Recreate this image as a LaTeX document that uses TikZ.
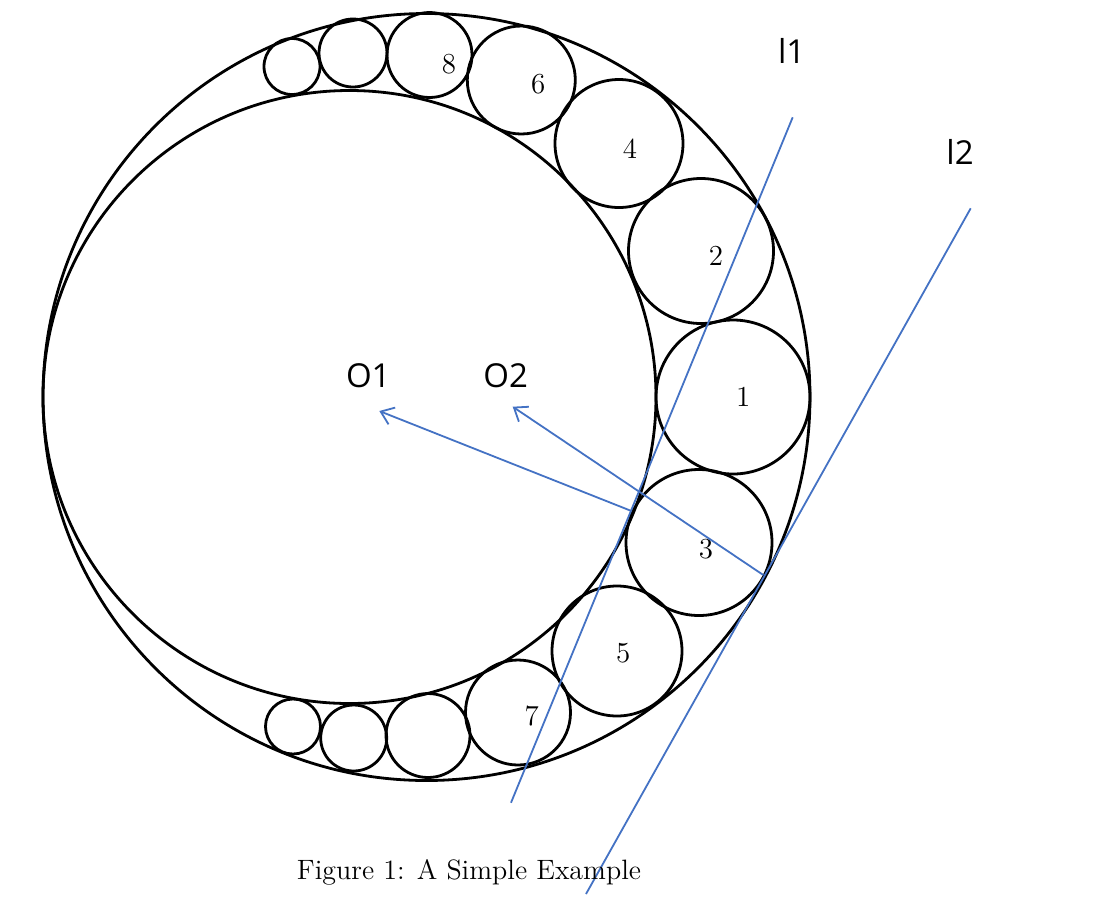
\documentclass[tikz,border=0pt]{standalone}
\usepackage{fontspec}
\newfontfamily\labfont{Open Sans}
\usetikzlibrary{arrows.meta}
\definecolor{lblue}{HTML}{4472C4}
\begin{document}
\begin{tikzpicture}[x=0.5pt,y=-0.5pt,
  circ/.style={line width=1.4pt},
  blueline/.style={draw=lblue,line width=0.9pt},
  bluearrow/.style={blueline,-{Straight Barb[length=6pt,width=9pt]}},
  num/.style={font=\fontsize{14.5}{14.5}\selectfont, inner sep=0pt},
  lab/.style={font=\labfont\fontsize{16.5}{16.5}\selectfont, inner sep=0pt}]
\useasboundingbox (0,0) rectangle (1109,923);
\fill[white] (0,0) rectangle (1109,923);
% big circles
\draw[circ] (426.5,397) circle[radius=383.5];
\draw[circ] (349.5,397) circle[radius=306.5];
% chain
\draw[circ] (733,397) circle[radius=77];
\draw[circ] (701,251) circle[radius=72.5];
\draw[circ] (699,542.5) circle[radius=73];
\draw[circ] (619,143.5) circle[radius=64];
\draw[circ] (617,651) circle[radius=65];
\draw[circ] (521.3,80) circle[radius=54];
\draw[circ] (518,712.5) circle[radius=52.5];
\draw[circ] (429.5,55) circle[radius=42.5];
\draw[circ] (353,53) circle[radius=34];
\draw[circ] (292,66.5) circle[radius=28];
\draw[circ] (428,735.5) circle[radius=42];
\draw[circ] (353.7,738) circle[radius=33];
\draw[circ] (293,726.5) circle[radius=27.5];
% numbers
\node[num] (n1) at (743.3,396.7) {1};
\node[num] (n2) at (716,256) {2};
\node[num] (n3) at (706,549.3) {3};
\node[num] (n4) at (630,148.3) {4};
\node[num] (n5) at (623.3,652.7) {5};
\node[num] (n6) at (538.3,84.3) {6};
\node[num] (n7) at (531.7,716) {7};
\node[num] (n8) at (449,64.3) {8};
% labels
\node[lab] (O1) at (368.3,376) {O1};
\node[lab] (O2) at (505.7,376) {O2};
\node[lab] (L1) at (791.7,51) {l1};
\node[lab] (L2) at (960,151.7) {l2};
% lines
\coordinate (l1a) at (792.7,117.3);
\coordinate (l1b) at (511,802.7);
\coordinate (l2a) at (970.7,208.3);
\coordinate (l2b) at (586,894);
\draw[blueline] (l1a) -- (l1b);
\draw[blueline] (l2a) -- (l2b);
\coordinate (a1s) at (630.7,510.7);
\coordinate (a1t) at (379.3,411);
\coordinate (a2s) at (763.3,575);
\coordinate (a2t) at (512.7,406.7);
\draw[bluearrow] (a1s) -- (a1t);
\draw[bluearrow] (a2s) -- (a2t);
% caption
\node[anchor=base, inner sep=0pt, font=\fontsize{14}{14}\selectfont] (cap) at (469,879) {Figure 1: A Simple Example};
\end{tikzpicture}
\end{document}
